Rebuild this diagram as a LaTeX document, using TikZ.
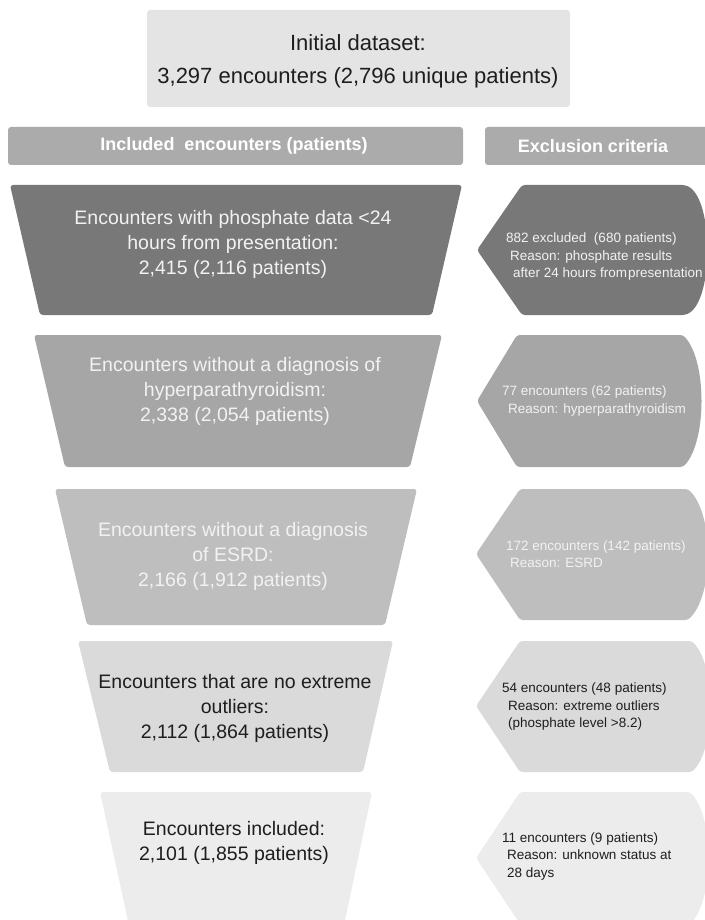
\documentclass[tikz,border=0pt]{standalone}
\usepackage{fontspec}
\setmainfont{Liberation Sans}

\definecolor{topgray}{HTML}{E4E4E4}
\definecolor{headgray}{HTML}{ABABAB}
\definecolor{lvlone}{HTML}{787878}
\definecolor{lvltwo}{HTML}{A6A6A6}
\definecolor{lvlthree}{HTML}{BEBEBE}
\definecolor{lvlfour}{HTML}{DADADA}
\definecolor{lvlfive}{HTML}{ECECEC}
\definecolor{lighttext}{HTML}{F2F2F2}
\definecolor{darktext}{HTML}{1E1E1E}

\tikzset{
	box/.style={rounded corners=3pt},
	bigtext/.style={align=center, inner sep=0pt, font=\fontsize{19.5}{25}\selectfont},
	headtext/.style={inner sep=0pt, text=white, font=\fontsize{18}{22}\selectfont\bfseries},
	smalltext/.style={align=left, anchor=west, inner sep=0pt, font=\fontsize{13.5}{17.5}\selectfont},
}

\begin{document}
\begin{tikzpicture}[x=1pt,y=-1pt]
\useasboundingbox (0,0) rectangle (704,920);

% initial dataset
\fill[box, topgray] (147,10) rectangle (570,107);
\node[bigtext, text=darktext, font=\fontsize{22}{33}\selectfont] (init) at (358,61)
	{Initial dataset:\\3,297 encounters (2,796 unique patients)};

% column heads
\fill[box, headgray] (8,127) rectangle (463,165);
\fill[box, headgray] (485,127) rectangle (708,165);
\node[headtext] (inchead) at (234,146) {Included\ \ encounters (patients)};
\node[headtext] (exhead) at (593,146) {Exclusion criteria};

% funnel, left column
\fill[box, lvlone]   (10,185) -- (462,185) -- (432,315) -- (40,315) -- cycle;
\fill[box, lvltwo]   (34,335) -- (442,335) -- (410,467) -- (65,467) -- cycle;
\fill[box, lvlthree] (55,489) -- (417,489) -- (385,625) -- (87,625) -- cycle;
\fill[box, lvlfour]  (78,641) -- (393,641) -- (363,772) -- (110,772) -- cycle;
\fill[box, lvlfive]  (100,792) -- (372,792) -- (343,930) -- (130,930) -- cycle;

% excluded, right column
\fill[box, lvlone]   (477,250) -- (522,185) -- (685,185) .. controls (714,198) and (714,302) .. (685,315) -- (522,315) -- cycle;
\fill[box, lvltwo]   (477,401) -- (517,335) -- (683,335) .. controls (707,361) and (707,441) .. (683,467) -- (517,467) -- cycle;
\fill[box, lvlthree] (476,554) -- (520,489) -- (688,489) .. controls (714,515) and (714,594) .. (688,620) -- (520,620) -- cycle;
\fill[box, lvlfour]  (476,706) -- (520,641) -- (692,641) .. controls (716,667) and (716,746) .. (692,772) -- (520,772) -- cycle;
\fill[box, lvlfive]  (476,858) -- (520,792) -- (690,792) .. controls (714,818) and (714,898) .. (690,924) -- (520,924) -- cycle;

\node[bigtext, text=lighttext] (inc1) at (233,244)
	{Encounters with phosphate data <24\\hours from presentation:\\2,415 (2,116 patients)};
\node[bigtext, text=lighttext] (inc2) at (235,391)
	{Encounters without a diagnosis of\\hyperparathyroidism:\\2,338 (2,054 patients)};
\node[bigtext, text=lighttext] (inc3) at (233,556)
	{Encounters without a diagnosis\\of ESRD:\\2,166 (1,912 patients)};
\node[bigtext, text=darktext] (inc4) at (235,708)
	{Encounters that are no extreme\\outliers:\\2,112 (1,864 patients)};
\node[bigtext, text=darktext] (inc5) at (234,843)
	{Encounters included:\\2,101 (1,855 patients)};

\node[smalltext, text=lighttext] (exc1) at (506,257)
	{882 excluded\ \ (680 patients)\\\hspace*{4pt}Reason: phosphate results\\\hspace*{7pt}after 24 hours from\hspace{1pt}presentation};
\node[smalltext, text=lighttext] (exc2) at (502,401)
	{77 encounters (62 patients)\\\hspace*{6pt}Reason: hyperparathyroidism};
\node[smalltext, text=lighttext] (exc3) at (506,554)
	{172 encounters (142 patients)\\\hspace*{4pt}Reason: ESRD};
\node[smalltext, text=darktext] (exc4) at (502,707)
	{54 encounters (48 patients)\\\hspace*{6pt}Reason: extreme outliers\\\hspace*{6pt}(phosphate level >8.2)};
\node[smalltext, text=darktext] (exc5) at (502,856)
	{11 encounters (9 patients)\\\hspace*{5pt}Reason: unknown status at\\\hspace*{5pt}28 days};

\end{tikzpicture}
\end{document}
